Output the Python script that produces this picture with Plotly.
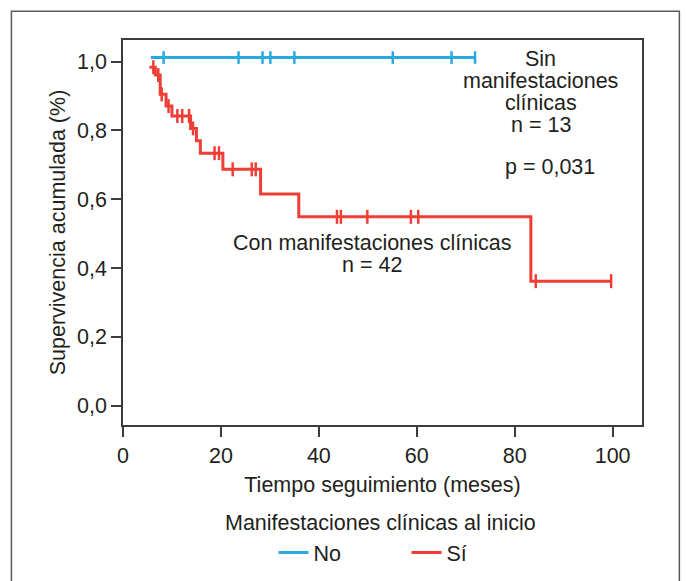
import plotly.graph_objects as go

# ---------------- data ----------------
# Group "No" (sin manifestaciones clínicas): no events, only censorings
no_start = 5.7
no_survival = 1.0
no_censor_times = [8.3, 23.6, 28.5, 30.1, 35.0, 55.1, 67.1, 71.9]

# Group "Sí" (con manifestaciones clínicas): Kaplan-Meier steps
si_step_times = [5.4, 6.6, 7.6, 8.8, 10.0, 13.8, 15.0, 15.8, 20.4, 28.1, 35.9, 83.3, 99.7]
si_step_surv = [0.984, 0.961, 0.905, 0.871, 0.842, 0.806, 0.770, 0.734, 0.687, 0.615, 0.549, 0.362, 0.362]
si_censor_times = [6.2, 7.2, 7.9, 9.3, 11.1, 12.1, 13.5, 14.3, 18.7, 19.6, 22.4, 26.3, 27.1,
                   43.7, 44.5, 49.9, 58.8, 60.3, 84.3, 99.7]

x_ticks = [0, 20, 40, 60, 80, 100]
y_ticks = [0.0, 0.2, 0.4, 0.6, 0.8, 1.0]
y_tick_labels = ["0,0", "0,2", "0,4", "0,6", "0,8", "1,0"]

NO_DISPLAY_OFFSET = 0.012  # the reference lifts the flat "No" curve slightly above 1,0

BLUE = "#29a9e0"
RED = "#ee3e36"
TXT = "#231f20"
FONT = "Liberation Sans, Arial, sans-serif"
FS = 21.5


def surv_at(t, times, surv):
    s = surv[0]
    for ti, si in zip(times, surv):
        if ti <= t:
            s = si
    return s


no_line_x = [no_start, no_censor_times[-1]]
no_line_y = [no_survival + NO_DISPLAY_OFFSET] * 2
no_cens_y = [no_survival + NO_DISPLAY_OFFSET] * len(no_censor_times)
si_cens_y = [surv_at(t, si_step_times, si_step_surv) for t in si_censor_times]

fig = go.Figure()
fig.add_trace(go.Scatter(x=no_line_x, y=no_line_y, mode="lines", name="No",
                         line=dict(color=BLUE, width=3), legendgroup="no"))
fig.add_trace(go.Scatter(x=no_censor_times, y=no_cens_y, mode="markers", showlegend=False,
                         legendgroup="no",
                         marker=dict(symbol="line-ns", size=9, line=dict(color=BLUE, width=2.5))))
fig.add_trace(go.Scatter(x=si_step_times, y=si_step_surv, mode="lines", name="Sí",
                         line=dict(color=RED, width=3, shape="hv"), legendgroup="si"))
fig.add_trace(go.Scatter(x=si_censor_times, y=si_cens_y, mode="markers", showlegend=False,
                         legendgroup="si",
                         marker=dict(symbol="line-ns", size=10, line=dict(color=RED, width=2.5))))

ann_font = dict(family=FONT, size=FS, color=TXT)
annotations = []
for txt, yv in [("Sin", 1.0078), ("manifestaciones", 0.944), ("clínicas", 0.880), ("n = 13", 0.816)]:
    annotations.append(dict(x=85.3, y=yv, xref="x", yref="y", text=txt, showarrow=False,
                            xanchor="center", yanchor="middle", font=ann_font))
annotations.append(dict(x=87.2, y=0.694, xref="x", yref="y", text="p = 0,031", showarrow=False,
                        xanchor="center", yanchor="middle", font=ann_font))
annotations.append(dict(x=50.9, y=0.4735, xref="x", yref="y", text="Con manifestaciones clínicas",
                        showarrow=False, xanchor="center", yanchor="middle", font=ann_font))
annotations.append(dict(x=50.9, y=0.4085, xref="x", yref="y", text="n = 42",
                        showarrow=False, xanchor="center", yanchor="middle", font=ann_font))
# legend heading
annotations.append(dict(x=0.497, y=-0.2536, xref="paper", yref="paper",
                        text="Manifestaciones clínicas al inicio", showarrow=False,
                        xanchor="center", yanchor="middle", font=ann_font))

axis_common = dict(showline=True, linecolor="#3c3c3c", linewidth=1.5, mirror=True,
                   ticks="outside", ticklen=10, tickwidth=1.5, tickcolor="#3c3c3c",
                   showgrid=False, zeroline=False,
                   tickfont=dict(family=FONT, size=FS, color=TXT))

fig.update_layout(
    width=686, height=581,
    margin=dict(l=123, r=44, t=40, b=156, autoexpand=False),
    paper_bgcolor="white", plot_bgcolor="white",
    font=dict(family=FONT, size=FS, color=TXT),
    xaxis=dict(range=[0, 106], tickvals=x_ticks, ticktext=[str(v) for v in x_ticks],
               title=dict(text="Tiempo seguimiento (meses)", font=dict(family=FONT, size=FS, color=TXT),
                          standoff=10),
               **axis_common),
    yaxis=dict(range=[-0.0561, 1.063], tickvals=y_ticks, ticktext=y_tick_labels,
               title=dict(text="Supervivencia acumulada (%)", font=dict(family=FONT, size=FS, color=TXT),
                          standoff=6),
               **axis_common),
    showlegend=True,
    legend=dict(orientation="h", x=0.29, xanchor="left", y=-0.331, yanchor="middle",
                font=dict(family=FONT, size=FS, color=TXT),
                entrywidth=88, entrywidthmode="pixels", bgcolor="rgba(0,0,0,0)"),
    annotations=annotations,
    shapes=[dict(type="rect", xref="paper", yref="paper", x0=-0.215, x1=1.072, y0=-0.6, y1=1.075,
                 line=dict(color="#58595b", width=1.5), fillcolor="rgba(0,0,0,0)", layer="below")],
)

fig.write_html("out.html")
